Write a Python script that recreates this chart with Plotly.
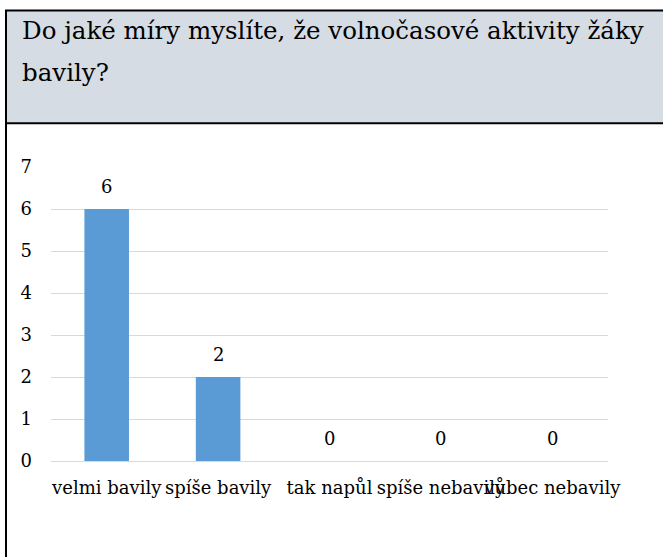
import plotly.graph_objects as go

categories = ["velmi bavily", "spíše bavily", "tak napůl", "spíše nebavily", "vůbec nebavily"]
values = [6, 2, 0, 0, 0]
y_ticks = [0, 1, 2, 3, 4, 5, 6, 7]
title_lines = ["Do jaké míry myslíte, že volnočasové aktivity žáky", "bavily?"]

W, H = 663, 557
ML, MR, MT, MB = 51, 55, 166.7, 96
PW = W - ML - MR
PH = H - MT - MB

def px(x):
    return (x - ML) / PW

def py(y):
    return (H - MB - y) / PH

FONT = "DejaVu Serif"

fig = go.Figure()
fig.add_trace(go.Bar(
    x=categories, y=values,
    marker=dict(color="#5B9BD5", line=dict(width=0)),
    width=0.4,
    hoverinfo="x+y",
))

for c, v in zip(categories, values):
    fig.add_annotation(x=c, y=v, text=str(v), showarrow=False,
                       yanchor="bottom", yshift=10,
                       font=dict(family=FONT, size=18, color="#000000"))

shapes = [
    dict(type="rect", xref="paper", yref="paper",
         x0=px(6), x1=px(W + 10), y0=py(123), y1=py(10),
         fillcolor="#D5DCE4", line=dict(color="#000000", width=2), layer="below"),
    dict(type="line", xref="paper", yref="paper",
         x0=px(6), x1=px(6), y0=py(123), y1=py(H + 10),
         line=dict(color="#000000", width=2)),
]
fig.update_layout(shapes=shapes)

fig.add_annotation(xref="paper", yref="paper", x=px(20), y=py(30),
                   xanchor="left", yanchor="middle", showarrow=False,
                   text=title_lines[0], font=dict(family=FONT, size=24.5, color="#000000"))
fig.add_annotation(xref="paper", yref="paper", x=px(20), y=py(72.5),
                   xanchor="left", yanchor="middle", showarrow=False,
                   text=title_lines[1], font=dict(family=FONT, size=24.5, color="#000000"))

fig.update_layout(
    width=W, height=H,
    margin=dict(l=ML, r=MR, t=MT, b=MB, pad=0, autoexpand=False),
    paper_bgcolor="white", plot_bgcolor="white",
    showlegend=False,
    bargap=0.6,
    font=dict(family=FONT, size=18, color="#000000"),
)
fig.update_xaxes(showline=False, showgrid=False, ticks="", ticklabelstandoff=14,
                 tickangle=0, automargin=False,
                 tickfont=dict(family=FONT, size=18, color="#000000"))
fig.update_yaxes(range=[0, 7], tickvals=y_ticks, showline=False, automargin=False,
                 showgrid=True, gridcolor="#D9D9D9", gridwidth=1,
                 zeroline=True, zerolinecolor="#D9D9D9", zerolinewidth=1,
                 ticks="", ticklabelstandoff=18,
                 tickfont=dict(family=FONT, size=18, color="#000000"))

fig.write_html("out.html",
               config={"displayModeBar": False},
               post_script="document.body.style.margin='0';document.body.style.overflow='hidden';")
